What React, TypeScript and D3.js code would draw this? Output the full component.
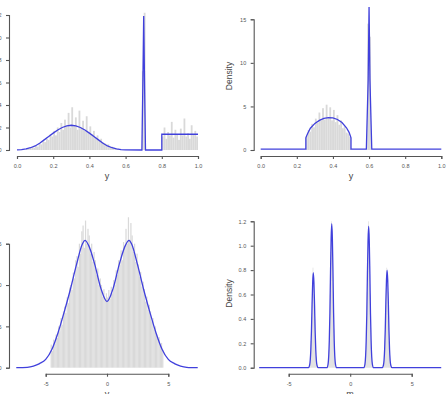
import React, { useEffect, useRef } from 'react';
import * as d3 from 'd3';

// --- top left: y on [0, 1] ---
const xTicks1 = [0, 0.2, 0.4, 0.6, 0.8, 1.0];
const yTicks1 = [0, 0.2, 0.4, 0.6, 0.8, 1.0, 1.2];
const density1: [number, number][] = [
  [0, 0.001], [0.025, 0.004], [0.05, 0.01], [0.075, 0.02], [0.1, 0.036], [0.125, 0.06],
  [0.15, 0.09], [0.175, 0.12], [0.2, 0.15], [0.225, 0.178], [0.25, 0.2], [0.275, 0.215],
  [0.3, 0.22], [0.325, 0.215], [0.35, 0.2], [0.375, 0.178], [0.4, 0.15], [0.425, 0.12],
  [0.45, 0.09], [0.475, 0.06], [0.5, 0.036], [0.525, 0.02], [0.55, 0.01], [0.575, 0.004],
  [0.6, 0.001], [0.69, 0], [0.695, 0.55], [0.7, 1.19], [0.705, 0.55], [0.71, 0],
  [0.8, 0], [0.8, 0.14], [1.0, 0.14],
];
const hist1Start = 0.05;
const hist1Step = 0.01;
const hist1 = [
  0.01, 0.01, 0.02, 0.03, 0.02,
  0.04, 0.03, 0.06, 0.05, 0.08, 0.07, 0.1, 0.09, 0.14, 0.12,
  0.17, 0.13, 0.2, 0.16, 0.24, 0.18, 0.27, 0.21, 0.33, 0.2,
  0.38, 0.22, 0.29, 0.18, 0.35, 0.2, 0.26, 0.17, 0.3, 0.16,
  0.21, 0.14, 0.17, 0.11, 0.13, 0.09, 0.1, 0.07, 0.06, 0.05,
  0.05, 0.03, 0.03, 0.02, 0.01, 0.01, 0, 0, 0, 0,
  0, 0, 0, 0, 0, 0, 0, 0, 0, 0.7,
  1.22, 0, 0, 0, 0, 0, 0, 0, 0, 0,
  0.12, 0.2, 0.1, 0.16, 0.13, 0.25, 0.11, 0.18, 0.14, 0.09,
  0.19, 0.13, 0.28, 0.12, 0.15, 0.1, 0.22, 0.14, 0.17, 0.12,
];

// --- top right ---
const xTicks2 = [0, 0.2, 0.4, 0.6, 0.8, 1.0];
const yTicks2 = [0, 5, 10, 15];
const density2: [number, number][] = [
  [0, 0.1], [0.25, 0.1], [0.25, 1.4], [0.26, 1.9], [0.275, 2.5], [0.3, 3.05],
  [0.325, 3.4], [0.35, 3.62], [0.375, 3.72], [0.4, 3.68], [0.425, 3.5], [0.45, 3.15],
  [0.475, 2.55], [0.49, 2.0], [0.5, 1.4], [0.5, 0.1], [0.585, 0.1], [0.595, 8],
  [0.6, 16.4], [0.605, 8], [0.615, 0.1], [1.0, 0.1],
];
const hist2Start = 0.25;
const hist2Step = 0.01;
const hist2 = [
  1.6, 2.3, 2.1, 3.0, 2.6, 3.6, 3.1, 4.3, 3.4, 4.8, 3.5, 5.2, 3.6,
  4.9, 3.4, 4.6, 3.2, 4.0, 2.9, 3.4, 2.5, 2.7, 2.0, 1.9, 1.5,
  0, 0, 0, 0, 0, 0, 0, 0, 0, 14.5, 13,
];

// --- bottom left: two-mode mixture ---
const xTicks3 = [-5, 0, 5];
const yTicks3 = [0, 0.05, 0.1, 0.15];
const density3: [number, number][] = [
  [-7.4, 0], [-6.5, 0.0005], [-6, 0.002], [-5.5, 0.005], [-5, 0.01], [-4.5, 0.022],
  [-4, 0.042], [-3.5, 0.067], [-3, 0.094], [-2.5, 0.124], [-2, 0.15], [-1.8, 0.154],
  [-1.5, 0.148], [-1, 0.125], [-0.5, 0.096], [0, 0.08], [0.5, 0.096], [1, 0.125],
  [1.5, 0.148], [1.8, 0.154], [2, 0.15], [2.5, 0.124], [3, 0.094], [3.5, 0.067],
  [4, 0.042], [4.5, 0.022], [5, 0.01], [5.5, 0.005], [6, 0.002], [6.5, 0.0005], [7.4, 0],
];
const hist3Start = -4.6;
const hist3Step = 0.1;
const hist3 = [
  0.028, 0.02, 0.034, 0.029, 0.04, 0.036,
  0.05, 0.044, 0.06, 0.052, 0.068,
  0.074, 0.066, 0.085, 0.078, 0.097,
  0.1, 0.094, 0.115, 0.108, 0.13,
  0.135, 0.122, 0.15, 0.138, 0.165,
  0.172, 0.145, 0.178, 0.15, 0.168,
  0.16, 0.138, 0.15, 0.128, 0.14,
  0.13, 0.112, 0.12, 0.1, 0.108,
  0.1, 0.086, 0.095, 0.082, 0.09,
  0.085, 0.094, 0.083, 0.098, 0.09,
  0.106, 0.1, 0.118, 0.112, 0.13,
  0.124, 0.142, 0.13, 0.152, 0.145,
  0.168, 0.15, 0.182, 0.155, 0.175,
  0.16, 0.14, 0.15, 0.128, 0.138,
  0.125, 0.11, 0.116, 0.098, 0.104,
  0.095, 0.08, 0.086, 0.07, 0.076,
  0.068, 0.056, 0.06, 0.046, 0.05,
  0.04, 0.035, 0.037, 0.028, 0.03, 0.022,
];

// --- bottom right: four narrow peaks ---
const xTicks4 = [-5, 0, 5];
const yTicks4 = [0, 0.2, 0.4, 0.6, 0.8, 1.0, 1.2];
const density4: [number, number][] = [
  [-7.4, 0], [-3.4, 0], [-3.3, 0.02], [-3.2, 0.15], [-3.15, 0.3], [-3.1, 0.52], [-3.05, 0.7],
  [-3, 0.78], [-2.95, 0.7], [-2.9, 0.52], [-2.85, 0.3], [-2.8, 0.15], [-2.7, 0.02], [-2.6, 0],
  [-1.9, 0], [-1.8, 0.03], [-1.7, 0.22], [-1.65, 0.45], [-1.6, 0.78], [-1.55, 1.06],
  [-1.5, 1.18], [-1.45, 1.06], [-1.4, 0.78], [-1.35, 0.45], [-1.3, 0.22], [-1.2, 0.03], [-1.1, 0],
  [1.1, 0], [1.2, 0.03], [1.3, 0.22], [1.35, 0.44], [1.4, 0.77], [1.45, 1.04],
  [1.5, 1.16], [1.55, 1.04], [1.6, 0.77], [1.65, 0.44], [1.7, 0.22], [1.8, 0.03], [1.9, 0],
  [2.6, 0], [2.7, 0.02], [2.8, 0.15], [2.85, 0.31], [2.9, 0.54], [2.95, 0.72],
  [3, 0.8], [3.05, 0.72], [3.1, 0.54], [3.15, 0.31], [3.2, 0.15], [3.3, 0.02], [3.4, 0], [7.4, 0],
];
const hist4Starts = [-3.3, -1.8, 1.2, 2.7];
const hist4Step = 0.05;
const hist4 = [
  [0.03, 0.1, 0.22, 0.42, 0.64, 0.82, 0.76, 0.6, 0.4, 0.22, 0.09, 0.03],
  [0.05, 0.15, 0.34, 0.6, 0.95, 1.2, 1.14, 0.92, 0.62, 0.32, 0.14, 0.05],
  [0.05, 0.14, 0.32, 0.62, 0.9, 1.2, 1.15, 0.93, 0.6, 0.33, 0.15, 0.05],
  [0.03, 0.1, 0.23, 0.4, 0.65, 0.82, 0.78, 0.62, 0.42, 0.21, 0.1, 0.03],
];

const toBins = (start: number, step: number, heights: number[]) =>
  heights.map((h, i) => ({ x0: start + i * step, x1: start + (i + 1) * step, h }));

const panels = [
  {
    axisX: 9, xRange: [17, 198], xDomain: [0, 1], yRange: [150, 15], yDomain: [0, 1.2], axisY: 156,
    xTicks: xTicks1, yTicks: yTicks1, xFmt: '.1f', yFmt: '.1f', curve: d3.curveLinear,
    density: density1, bins: toBins(hist1Start, hist1Step, hist1),
    xTitle: 'y', xTitleX: 107, xTitleY: 179, yTitle: '', yTitleY: 0,
  },
  {
    axisX: 253.7, xRange: [260.7, 441.3], xDomain: [0, 1], yRange: [150, 19.3], yDomain: [0, 15], axisY: 156,
    xTicks: xTicks2, yTicks: yTicks2, xFmt: '.1f', yFmt: 'd', curve: d3.curveLinear,
    density: density2, bins: toBins(hist2Start, hist2Step, hist2),
    xTitle: 'y', xTitleX: 351, xTitleY: 179, yTitle: 'Density', yTitleY: 76,
  },
  {
    axisX: 9, xRange: [45.7, 168.3], xDomain: [-5, 5], yRange: [367.7, 243.7], yDomain: [0, 0.15], axisY: 373.7,
    xTicks: xTicks3, yTicks: yTicks3, xFmt: 'd', yFmt: '.2f', curve: d3.curveMonotoneX,
    density: density3, bins: toBins(hist3Start, hist3Step, hist3),
    xTitle: 'y', xTitleX: 107, xTitleY: 397, yTitle: '', yTitleY: 0,
  },
  {
    axisX: 253.7, xRange: [288.7, 411.7], xDomain: [-5, 5], yRange: [367.7, 221.3], yDomain: [0, 1.2], axisY: 373.7,
    xTicks: xTicks4, yTicks: yTicks4, xFmt: 'd', yFmt: '.1f', curve: d3.curveMonotoneX,
    density: density4,
    bins: hist4.flatMap((hs, k) => toBins(hist4Starts[k], hist4Step, hs)),
    xTitle: 'm', xTitleX: 350, xTitleY: 397, yTitle: 'Density', yTitleY: 293.5,
  },
];

const App = () => {
  const ref = useRef<SVGSVGElement>(null);

  useEffect(() => {
    const svg = d3.select(ref.current);
    svg.selectAll('*').remove();

    panels.forEach((p) => {
      const x = d3.scaleLinear().domain(p.xDomain).range(p.xRange);
      const y = d3.scaleLinear().domain(p.yDomain).range(p.yRange);
      const g = svg.append('g');

      // histogram underneath
      g.selectAll('rect')
        .data(p.bins.filter((b) => b.h > 0))
        .join('rect')
        .attr('x', (b) => x(b.x0))
        .attr('width', (b) => x(b.x1) - x(b.x0))
        .attr('y', (b) => y(b.h))
        .attr('height', (b) => y(0) - y(b.h))
        .attr('fill', '#d9d9d9');

      // density line
      const line = d3.line<[number, number]>()
        .x((d) => x(d[0]))
        .y((d) => y(d[1]))
        .curve(p.curve);

      g.append('path')
        .datum(p.density)
        .attr('d', line)
        .attr('fill', 'none')
        .attr('stroke', '#4040dc')
        .attr('stroke-width', 1.3);

      // axes, R style: detached from the plot region
      const xAxis = d3.axisBottom(x).tickValues(p.xTicks).tickSizeOuter(0).tickSize(3).tickPadding(5)
        .tickFormat((v) => d3.format(p.xFmt)(v as number).replace('−', '-'));
      const yAxis = d3.axisLeft(y).tickValues(p.yTicks).tickSizeOuter(0).tickSize(3).tickPadding(4.5)
        .tickFormat((v) => d3.format(p.yFmt)(v as number));

      const gx = g.append('g').attr('transform', `translate(0,${p.axisY})`).call(xAxis);
      const gy = g.append('g').attr('transform', `translate(${p.axisX},0)`).call(yAxis);

      [gx, gy].forEach((a) => {
        a.attr('font-family', 'Liberation Sans, Arial, sans-serif').attr('font-size', 5.5);
        a.select('.domain').attr('stroke', '#555').attr('stroke-width', 1.1);
        a.selectAll('.tick line').attr('stroke', '#555').attr('stroke-width', 1.1);
        a.selectAll('.tick text').attr('fill', '#555');
      });

      g.append('text')
        .attr('x', p.xTitleX)
        .attr('y', p.xTitleY)
        .attr('text-anchor', 'middle')
        .style('font-family', 'Liberation Sans, Arial, sans-serif')
        .style('font-size', '9px')
        .style('fill', '#444')
        .text(p.xTitle);

      if (p.yTitle) {
        g.append('text')
          .attr('transform', `translate(${p.axisX - 22},${p.yTitleY}) rotate(-90)`)
          .attr('text-anchor', 'middle')
          .style('font-family', 'Liberation Sans, Arial, sans-serif')
          .style('font-size', '8.5px')
          .style('fill', '#444')
          .text(p.yTitle);
      }
    });
  }, []);

  return (
    <svg
      ref={ref}
      width={446}
      height={394}
      style={{ position: 'absolute', left: 0, top: 0, background: '#fff' }}
    />
  );
};

export default App;
